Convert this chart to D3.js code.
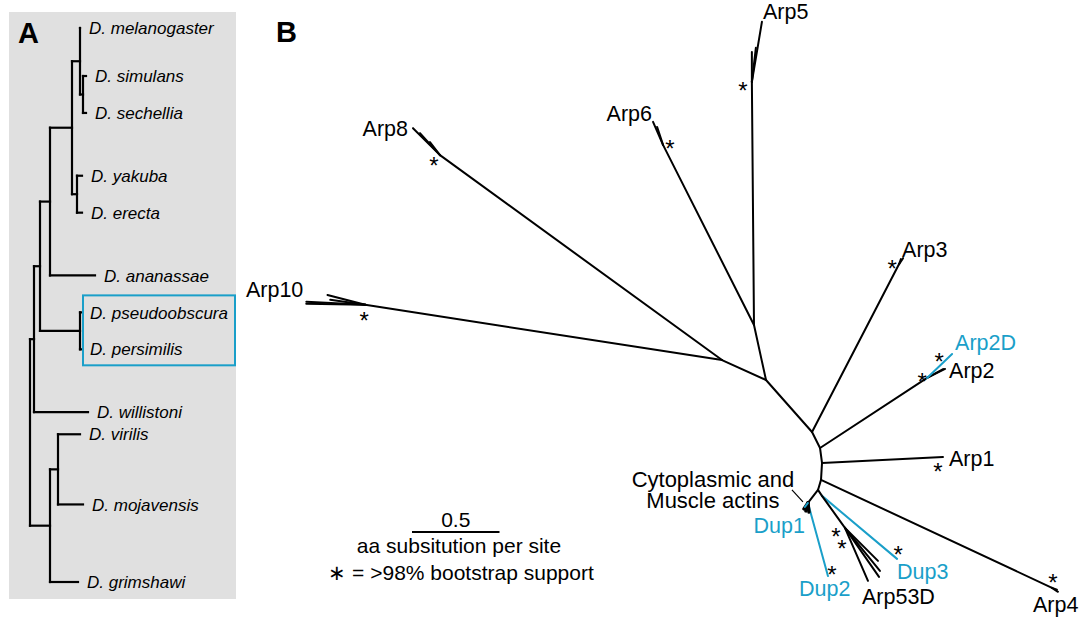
<!DOCTYPE html>
<html>
<head>
<meta charset="utf-8">
<title>Arp phylogeny</title>
<style>
  body { margin: 0; background: #fff; }
  text { font-family: "Liberation Sans", Arial, Helvetica, sans-serif; }
</style>
</head>
<body>
<script src="https://d3js.org/d3.v7.min.js"></script>
<script>
// ---- panel A: Drosophila species tree ----
var spId = ["root", "sop", "mgrp", "melana", "msub", "melc", "simc",
  "D. melanogaster", "D. simulans", "D. sechellia", "yakc", "D. yakuba", "D. erecta",
  "D. ananassae", "obs", "D. pseudoobscura", "D. persimilis", "D. willistoni",
  "dros", "vm", "D. virilis", "D. mojavensis", "D. grimshawi"];
var spParent = ["", "root", "sop", "mgrp", "melana", "msub", "melc",
  "melc", "simc", "simc", "msub", "yakc", "yakc",
  "melana", "mgrp", "obs", "obs", "sop",
  "root", "dros", "vm", "vm", "dros"];
var spLength = [0, 0.4, 0.6, 1.0, 2.2, 0.8, 0.3,
  0, 0.3, 0.3, 0.5, 0.5, 0.5,
  4.5, 4.0, 0.1, 0.1, 5.4,
  2.0, 0.8, 2.2, 2.5, 2.8];
// tip rows (null for internal nodes)
var spRow = [null, null, null, null, null, null, null,
  0, 1.3, 2.3, null, 4, 5,
  6.7, null, 7.7, 8.7, 10.4,
  null, null, 11, 12.9, 15];
var boxed = ["D. pseudoobscura", "D. persimilis"];

// ---- panel B: actin-related protein tree (unrooted) ----
var arpId = ["R", "n1", "Arp10", "a10a", "a10b", "a10c", "a10d", "Arp8", "a8a", "a8b", "a8c",
  "nb", "Arp6", "a6a", "a6b", "Arp5", "a5a", "a5b", "a5c",
  "nc", "Arp3", "a3a", "a3b", "nd", "Arp2n", "Arp2", "a2a", "Arp2D",
  "ne", "Arp1", "nf", "Arp4", "a4a", "a4b", "ng", "nh", "Dup3",
  "Arp53D", "a53a", "a53b", "a53c", "a53d", "ni", "Dup2", "acta", "actb", "actc", "Dup1"];
var arpParent = ["", "R", "n1", "Arp10", "Arp10", "Arp10", "Arp10", "n1", "Arp8", "Arp8", "Arp8",
  "R", "nb", "Arp6", "Arp6", "nb", "Arp5", "Arp5", "Arp5",
  "R", "nc", "Arp3", "Arp3", "nc", "nd", "Arp2n", "Arp2n", "Arp2n",
  "nd", "ne", "ne", "nf", "Arp4", "Arp4", "nf", "ng", "nh",
  "nh", "Arp53D", "Arp53D", "Arp53D", "Arp53D", "ng", "ni", "ni", "ni", "ni", "ni"];
// branch length, aa substitutions per site
var arpLength = [0, 0.276, 2.063, 0.337, 0.337, 0.223, 0.202, 1.992, 0.218, 0.170, 0.094,
  0.322, 1.153, 0.143, 0.108, 1.389, 0.348, 0.171, 0.196,
  0.397, 1.081, 0.041, 0.030, 0.102, 0.731, 0.115, 0.105, 0.198,
  0.086, 0.692, 0.097, 1.457, 0.041, 0.030, 0.060, 0.041, 0.560,
  0.225, 0.267, 0.317, 0.341, 0.330, 0.094, 0.433, 0.047, 0.052, 0.041, 0.029];
// branch direction, degrees (screen coordinates)
var arpAngle = [0, -155.6, -171.2, -177.1, -179.0, -165.3, -171.9, -144.0, -135.0, -132.3, -127.6,
  -102.3, -116.8, -113.5, -108.4, -90.5, -80.5, -90.0, -83.3,
  48.5, -62.6, -56.3, -70, 63.4, -33.2, -26.6, -29, -43.8,
  82.4, -2.8, 93.4, 25.05, 33.7, 20, 106.7, 56.3, 40.0,
  54.3, 45.0, 50.9, 55.2, 66.5, 127.6, 74.7, 104, 83.7, 123.7, 126.9];
var blueIds = ["Arp2D", "Dup1", "Dup2", "Dup3"];
var blobIds = ["acta", "actb", "actc"];

var starNodes = ["Arp5", "Arp6", "Arp8", "Arp10", "Arp3", "Arp2D", "Arp2n", "Arp1", "Arp4", "Dup3", "Arp53D", "Arp53D", "Dup2"];
var starOffset = [[-9, 3], [7, -2], [-6, 5], [-1, 10], [-7, -1], [-13, 2], [-5, -2], [-5, 9], [1, -11], [1, -10], [-9, 3], [-3, 15], [4, -7]];

var tipLabels = ["Arp5", "Arp6", "Arp8", "Arp10", "Arp3", "Arp2D", "Arp2", "Arp1", "Arp4", "Arp53D", "Dup3", "Dup2", "Dup1"];
var tipNodes = ["a5a", "a6a", "a8a", "a10a", "a3a", "Arp2D", "Arp2", "Arp1", "a4a", "a53d", "Dup3", "Dup2", "Dup1"];
var tipOffset = [[1, -3, "start"], [-1, -1, "end"], [-5, 8, "end"], [-3, -5, "end"], [-1, -1, "start"],
  [3, -4, "start"], [4, 9, "start"], [6, 9, "start"], [-25, 20, "start"], [-6, 23, "start"],
  [0, 20, "start"], [-29, 20, "start"], [0, 26, "end"]];

var scaleValue = 0.5;

var W = 1082, H = 621, blue = "#1a9fc9";
var svg = d3.select("body").append("svg")
  .attr("width", W)
  .attr("height", H);

// ===== panel A =====
svg.append("rect")
  .attr("x", 9).attr("y", 12)
  .attr("width", 227).attr("height", 587)
  .attr("fill", "#e0e0e0");
svg.append("text")
  .attr("x", 18).attr("y", 43)
  .attr("font-size", 29).attr("font-weight", "bold")
  .text("A");

var spRows = spId.map(function(d, i) {
  return { id: d, parent: spParent[i] || null, len: spLength[i], row: spRow[i] };
});
var spRoot = d3.stratify().id(function(d) { return d.id; }).parentId(function(d) { return d.parent; })(spRows);

var xA = d3.scaleLinear().domain([0, 6]).range([30, 90]);
var yA = d3.scaleLinear().domain([0, 15]).range([28, 582]);

spRoot.eachBefore(function(n) {
  n.depthLen = n.parent ? n.parent.depthLen + n.data.len : 0;
});
spRoot.eachAfter(function(n) {
  n.py = n.children ? d3.mean(n.children, function(c) { return c.py; }) : yA(n.data.row);
  n.px = xA(n.depthLen);
});

var gA = svg.append("g")
  .attr("stroke", "#000").attr("stroke-width", 2.2).attr("fill", "none")
  .attr("stroke-linecap", "square");
spRoot.descendants().forEach(function(n) {
  if (n.parent) {
    gA.append("line")
      .attr("x1", n.parent.px).attr("x2", n.px)
      .attr("y1", n.py).attr("y2", n.py);
  }
  if (n.children) {
    gA.append("line")
      .attr("x1", n.px).attr("x2", n.px)
      .attr("y1", d3.min(n.children, function(c) { return c.py; }))
      .attr("y2", d3.max(n.children, function(c) { return c.py; }));
  }
});

svg.append("g").selectAll("text")
  .data(spRoot.leaves())
  .enter()
  .append("text")
    .attr("x", function(d) { return d.px + 9; })
    .attr("y", function(d) { return d.py; })
    .attr("dy", "0.36em")
    .attr("font-size", 17)
    .attr("font-style", "italic")
    .text(function(d) { return d.id; });

var boxLeaves = spRoot.leaves().filter(function(d) { return boxed.indexOf(d.id) >= 0; });
var by0 = d3.min(boxLeaves, function(d) { return d.py; }) - 17;
var by1 = d3.max(boxLeaves, function(d) { return d.py; }) + 16;
svg.append("rect")
  .attr("x", boxLeaves[0].px + 2).attr("y", by0)
  .attr("width", 235 - boxLeaves[0].px - 2).attr("height", by1 - by0)
  .attr("fill", "none").attr("stroke", blue).attr("stroke-width", 2);

// ===== panel B =====
svg.append("text")
  .attr("x", 276).attr("y", 42)
  .attr("font-size", 29).attr("font-weight", "bold")
  .text("B");

var L = d3.scaleLinear().domain([0, 1]).range([0, 175]);
var rootX = 766, rootY = 380;

var arpRows = arpId.map(function(d, i) {
  return { id: d, parent: arpParent[i] || null, len: arpLength[i], ang: arpAngle[i] };
});
var arpRoot = d3.stratify().id(function(d) { return d.id; }).parentId(function(d) { return d.parent; })(arpRows);
var byId = {};
arpRoot.eachBefore(function(n) {
  if (!n.parent) { n.px = rootX; n.py = rootY; }
  else {
    var a = n.data.ang * Math.PI / 180;
    n.px = n.parent.px + L(n.data.len) * Math.cos(a);
    n.py = n.parent.py + L(n.data.len) * Math.sin(a);
  }
  byId[n.id] = n;
});

svg.append("g").attr("fill", "none").attr("stroke-linecap", "round")
  .selectAll("line")
  .data(arpRoot.descendants().slice(1))
  .enter()
  .append("line")
    .attr("x1", function(d) { return d.parent.px; })
    .attr("y1", function(d) { return d.parent.py; })
    .attr("x2", function(d) { return d.px; })
    .attr("y2", function(d) { return d.py; })
    .attr("stroke", function(d) { return blueIds.indexOf(d.id) >= 0 ? blue : "#000"; })
    .attr("stroke-width", function(d) { return blobIds.indexOf(d.id) >= 0 ? 3.4 : 2; });

// bootstrap asterisks
svg.append("g").selectAll("text")
  .data(starNodes)
  .enter()
  .append("text")
    .attr("x", function(d, i) { return byId[d].px + starOffset[i][0]; })
    .attr("y", function(d, i) { return byId[d].py + starOffset[i][1] + 14; })
    .attr("text-anchor", "middle")
    .attr("font-size", 24)
    .text("*");

// tip labels
svg.append("g").selectAll("text")
  .data(tipLabels)
  .enter()
  .append("text")
    .attr("x", function(d, i) { return byId[tipNodes[i]].px + tipOffset[i][0]; })
    .attr("y", function(d, i) { return byId[tipNodes[i]].py + tipOffset[i][1]; })
    .attr("text-anchor", function(d, i) { return tipOffset[i][2]; })
    .attr("font-size", 21.5)
    .attr("fill", function(d) { return blueIds.indexOf(d) >= 0 ? blue : "#000"; })
    .text(function(d) { return d; });

// actins annotation
var ni = byId["ni"];
svg.append("line")
  .attr("x1", ni.px - 16).attr("y1", ni.py - 13)
  .attr("x2", ni.px - 5).attr("y2", ni.py - 1)
  .attr("stroke", "#000").attr("stroke-width", 1.2);
var act = svg.append("text")
  .attr("text-anchor", "middle")
  .attr("font-size", 22);
act.append("tspan").attr("x", ni.px - 95).attr("y", ni.py - 16).text("Cytoplasmic and");
act.append("tspan").attr("x", ni.px - 95).attr("y", ni.py + 5).text("Muscle actins");

// scale bar
var sx = 412, sy = 532;
svg.append("line")
  .attr("x1", sx).attr("x2", sx + L(scaleValue))
  .attr("y1", sy).attr("y2", sy)
  .attr("stroke", "#000").attr("stroke-width", 1.8);
svg.append("text")
  .attr("x", sx + L(scaleValue) / 2).attr("y", sy - 5)
  .attr("text-anchor", "middle").attr("font-size", 21)
  .text(scaleValue);
svg.append("text")
  .attr("x", 459).attr("y", 553)
  .attr("text-anchor", "middle").attr("font-size", 21)
  .text("aa subsitution per site");
svg.append("text")
  .attr("x", 461).attr("y", 580)
  .attr("text-anchor", "middle").attr("font-size", 21)
  .text("\u2217 = >98% bootstrap support");
</script>
</body>
</html>
